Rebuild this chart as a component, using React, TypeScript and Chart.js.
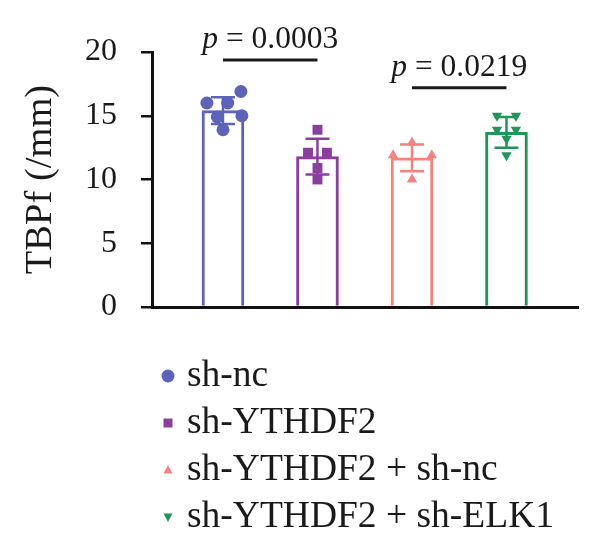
import React, { useEffect, useRef } from "react";
import { Chart, registerables } from "chart.js";

Chart.register(...registerables);

const categories = ["sh-nc", "sh-YTHDF2", "sh-YTHDF2 + sh-nc", "sh-YTHDF2 + sh-ELK1"];
const colors = ["#5C63B9", "#8A3F9F", "#F4837F", "#1E9659"];
const pointStyles = ["circle", "rect", "triangle", "triangle"];
const pointRotations = [0, 0, 0, 180];
const means = [15.4, 11.8, 11.7, 13.7];
const sds = [1.05, 1.4, 1.05, 1.2];
const points1 = [16.0, 16.9, 16.0, 14.9, 15.0, 13.9];
const jitter1 = [-0.17, 0.19, 0.05, -0.06, 0.2, 0];
const points2 = [13.9, 12.1, 12.1, 10.9, 10.0];
const jitter2 = [0, -0.1, 0.1, 0, 0];
const points3 = [12.9, 11.9, 11.9, 10.0];
const jitter3 = [0, -0.2, 0.21, 0];
const points4 = [15.0, 15.0, 13.9, 13.9, 13.2, 11.9];
const jitter4 = [-0.1, 0.1, -0.1, 0.1, 0, 0];
const yTicks = [0, 5, 10, 15, 20];
const sigPairs = [[0, 1], [2, 3]];
const sigLevels = [19.37, 17.2];
const pValues = ["0.0003", "0.0219"];

const allPoints = [points1, points2, points3, points4];
const allJitter = [jitter1, jitter2, jitter3, jitter4];

const FONT = "'Liberation Serif', 'DejaVu Serif', serif";
const INK = "#1a1a1a";

export default function App() {
  const ref = useRef<HTMLCanvasElement | null>(null);

  useEffect(() => {
    if (!ref.current) return;

    const errorBarPlugin = {
      id: "errorBars",
      afterDatasetDraw(chart: any, args: any) {
        if (args.index !== 0) return;
        const ctx = chart.ctx;
        const xs = chart.scales.x;
        const ys = chart.scales.y;
        ctx.save();
        ctx.lineWidth = 2.5;
        for (let i = 0; i < means.length; i++) {
          const x = xs.getPixelForValue(i + 1);
          const yT = ys.getPixelForValue(means[i] + sds[i]);
          const yB = ys.getPixelForValue(means[i] - sds[i]);
          ctx.strokeStyle = colors[i];
          ctx.beginPath();
          ctx.moveTo(x, yT);
          ctx.lineTo(x, yB);
          ctx.moveTo(x - 12, yT);
          ctx.lineTo(x + 12, yT);
          ctx.moveTo(x - 12, yB);
          ctx.lineTo(x + 12, yB);
          ctx.stroke();
        }
        ctx.restore();
      },
    };

    const annotPlugin = {
      id: "annot",
      afterDraw(chart: any) {
        const ctx = chart.ctx;
        const xs = chart.scales.x;
        const ys = chart.scales.y;
        ctx.save();
        // significance brackets
        sigPairs.forEach((pair, k) => {
          const x1 = xs.getPixelForValue(pair[0] + 1);
          const x2 = xs.getPixelForValue(pair[1] + 1);
          const y = ys.getPixelForValue(sigLevels[k]);
          ctx.strokeStyle = INK;
          ctx.lineWidth = 3;
          ctx.beginPath();
          ctx.moveTo(x1, y);
          ctx.lineTo(x2, y);
          ctx.stroke();
          const italic = `italic 31.5px ${FONT}`;
          const normal = `31.5px ${FONT}`;
          ctx.font = italic;
          const wp = ctx.measureText("p").width;
          ctx.font = normal;
          const rest = " = " + pValues[k];
          const wr = ctx.measureText(rest).width;
          const cx = (x1 + x2) / 2;
          const start = cx - (wp + wr) / 2;
          const by = y - 12;
          ctx.fillStyle = INK;
          ctx.textBaseline = "alphabetic";
          ctx.textAlign = "left";
          ctx.font = italic;
          ctx.fillText("p", start, by);
          ctx.font = normal;
          ctx.fillText(rest, start + wp, by);
        });
        // legend
        const left = chart.chartArea.left;
        const base0 = chart.chartArea.bottom + 79;
        categories.forEach((name, i) => {
          const by = base0 + i * 47;
          const mx = left + 16;
          const my = by - 10;
          ctx.fillStyle = colors[i];
          ctx.beginPath();
          if (i === 0) {
            ctx.arc(mx, my, 6.5, 0, Math.PI * 2);
          } else if (i === 1) {
            ctx.rect(mx - 4.5, my - 4.5, 9, 9);
          } else if (i === 2) {
            ctx.moveTo(mx, my - 5);
            ctx.lineTo(mx + 4.5, my + 3.5);
            ctx.lineTo(mx - 4.5, my + 3.5);
            ctx.closePath();
          } else {
            ctx.moveTo(mx, my + 5);
            ctx.lineTo(mx + 4.5, my - 3.5);
            ctx.lineTo(mx - 4.5, my - 3.5);
            ctx.closePath();
          }
          ctx.fill();
          ctx.fillStyle = INK;
          ctx.font = `37.5px ${FONT}`;
          ctx.textAlign = "left";
          ctx.textBaseline = "alphabetic";
          ctx.fillText(name, left + 35, by);
        });
        ctx.restore();
      },
    };

    const datasets: any[] = [
      {
        type: "bar",
        label: "mean",
        data: means.map((m, i) => ({ x: i + 1, y: m })),
        backgroundColor: "#ffffff",
        borderColor: colors,
        borderWidth: 3,
        borderSkipped: "start",
        barThickness: 42,
        order: 2,
      },
      ...allPoints.map((pts, i) => ({
        type: "scatter",
        label: categories[i],
        data: pts.map((v, k) => ({ x: i + 1 + allJitter[i][k], y: v })),
        pointStyle: pointStyles[i],
        rotation: pointRotations[i],
        radius: i === 0 ? 6.5 : i === 1 ? 7 : 6,
        backgroundColor: colors[i],
        borderColor: colors[i],
        borderWidth: 0,
        showLine: false,
        order: 1,
      })),
    ];

    const chart = new Chart(ref.current, {
      type: "bar",
      data: { datasets },
      options: {
        responsive: false,
        animation: false,
        layout: { padding: { left: 0, top: 44, right: 14, bottom: 235 } },
        plugins: { legend: { display: false }, tooltip: { enabled: false } },
        scales: {
          x: {
            type: "linear",
            min: 0.249,
            max: 4.757,
            offset: false,
            afterFit: (s: any) => {
              s.height = 0;
            },
            ticks: { display: false },
            grid: { display: false, drawTicks: false, offset: false },
            border: { display: true, color: "#111", width: 3 },
          },
          y: {
            type: "linear",
            min: 0,
            max: 20,
            afterBuildTicks: (s: any) => {
              s.ticks = yTicks.map((v) => ({ value: v }));
            },
            afterFit: (s: any) => {
              s.width = 144;
            },
            border: { display: true, color: "#111", width: 3 },
            grid: {
              drawOnChartArea: false,
              drawTicks: true,
              tickLength: 11,
              color: "#111",
              lineWidth: 2.5,
            },
            ticks: {
              padding: 24,
              color: INK,
              font: { family: FONT, size: 32 },
            },
            title: {
              display: true,
              text: "TBPf (/mm)",
              color: INK,
              font: { family: FONT, size: 38.5 },
              padding: { top: 10, bottom: 0 },
            },
          },
        },
      },
      plugins: [errorBarPlugin, annotPlugin],
    } as any);

    return () => chart.destroy();
  }, []);

  return (
    <div style={{ width: 584, height: 534 }}>
      <canvas ref={ref} width={584} height={534} />
    </div>
  );
}
